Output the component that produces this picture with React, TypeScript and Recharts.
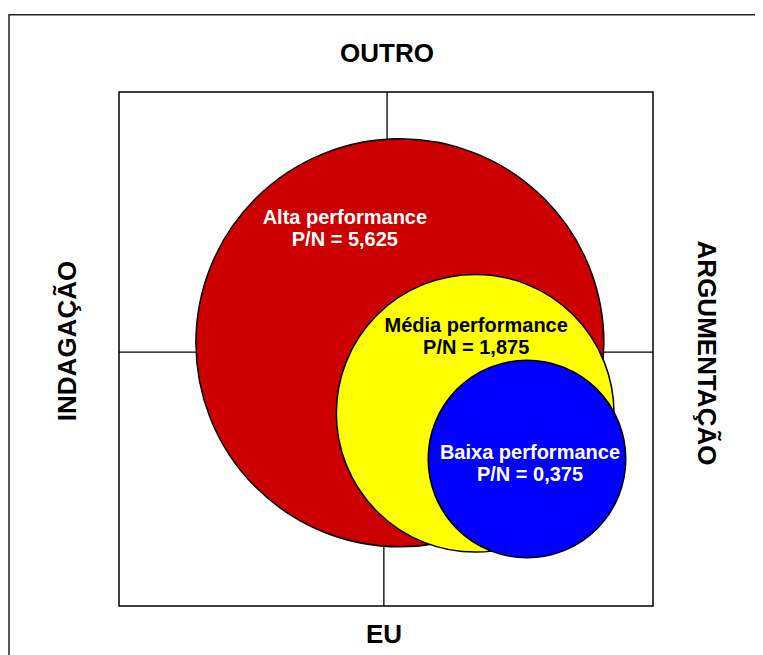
import React from 'react';
import { ScatterChart, Scatter, XAxis, YAxis, ZAxis, ReferenceLine, ReferenceArea } from 'recharts';

// circulos de desempenho (centro e raio em unidades do eixo x)
const nomes = ['Alta performance', 'Média performance', 'Baixa performance'];
const pn = ['5,625', '1,875', '0,375'];
const centroX = [5.26, 6.67, 7.64];
const centroY = [5.12, 3.75, 2.86];
const raio = [3.82, 2.6, 1.85];

const eixos = { topo: 'OUTRO', base: 'EU', esquerda: 'INDAGAÇÃO', direita: 'ARGUMENTAÇÃO' };
const cruzX = [5.02, 4.96];
const cruzY = 4.94;

const W = 755;
const H = 647;
const M = { top: 84, right: 110, bottom: 49, left: 111 };
const pxPorUnidade = (W - M.left - M.right) / 10;
const Z_MAX = 16;

const cores = ['#CC0000', '#FFFF00', '#0000FF'];
const corTexto = ['#FFFFFF', '#000000', '#FFFFFF'];
const deslocTexto = [
  { dx: -55, dy: -119 },
  { dx: 1, dy: -81 },
  { dx: 3, dy: 0 },
];

const fonte = '"Liberation Sans", Arial, sans-serif';

const data = nomes.map((nome, i) => ({
  nome,
  pn: pn[i],
  x: centroX[i],
  y: centroY[i],
  z: raio[i] * raio[i],
}));

const Circulo = (props: any) => {
  const { cx, cy, width, payload } = props;
  const i = nomes.indexOf(payload.nome);
  const d = deslocTexto[i];
  return (
    <g>
      <circle cx={cx} cy={cy} r={width / 2} fill={cores[i]} stroke="#000" strokeWidth={1.5} />
      <text
        x={cx + d.dx}
        y={cy + d.dy}
        textAnchor="middle"
        fill={corTexto[i]}
        fontFamily={fonte}
        fontWeight="bold"
        fontSize={20}
      >
        <tspan x={cx + d.dx}>{payload.nome}</tspan>
        <tspan x={cx + d.dx} dy={22}>{`P/N = ${payload.pn}`}</tspan>
      </text>
    </g>
  );
};

export default function App() {
  const txt = { fontFamily: fonte, fontWeight: 'bold' as const, fontSize: 26, fill: '#000' };
  return (
    <div style={{ position: 'relative', width: W, height: H, overflow: 'hidden', background: '#fff' }}>
      <svg width={W} height={H} style={{ position: 'absolute', left: 0, top: 0 }}>
        <path d={`M1 ${H} V6.75 H${W}`} fill="none" stroke="#222" strokeWidth={1.5} />
        <text x={379} y={54} textAnchor="middle" {...txt}>{eixos.topo}</text>
        <text x={376} y={635} textAnchor="middle" {...txt}>{eixos.base}</text>
        <text transform="translate(68 333) rotate(-90)" textAnchor="middle" {...txt}>{eixos.esquerda}</text>
        <text transform="translate(690 345) rotate(90)" textAnchor="middle" {...txt}>{eixos.direita}</text>
      </svg>
      <div style={{ position: 'absolute', left: 0, top: 0 }}>
        <ScatterChart width={W} height={H} margin={M}>
          <XAxis type="number" dataKey="x" domain={[0, 10]} hide />
          <YAxis type="number" dataKey="y" domain={[0, 10]} hide />
          <ZAxis
            type="number"
            dataKey="z"
            domain={[0, Z_MAX]}
            range={[0, Math.PI * Z_MAX * pxPorUnidade * pxPorUnidade]}
          />
          <ReferenceLine segment={[{ x: cruzX[0], y: cruzY }, { x: cruzX[0], y: 10 }]} stroke="#000" strokeWidth={1.3} />
          <ReferenceLine segment={[{ x: cruzX[1], y: 0 }, { x: cruzX[1], y: cruzY }]} stroke="#000" strokeWidth={1.3} />
          <ReferenceLine segment={[{ x: 0, y: cruzY }, { x: 10, y: cruzY }]} stroke="#000" strokeWidth={1.3} />
          <ReferenceArea x1={0} x2={10} y1={0} y2={10} fill="none" fillOpacity={0} stroke="#000" strokeWidth={1.5} />
          <Scatter data={data} shape={<Circulo />} isAnimationActive={false} />
        </ScatterChart>
      </div>
    </div>
  );
}
